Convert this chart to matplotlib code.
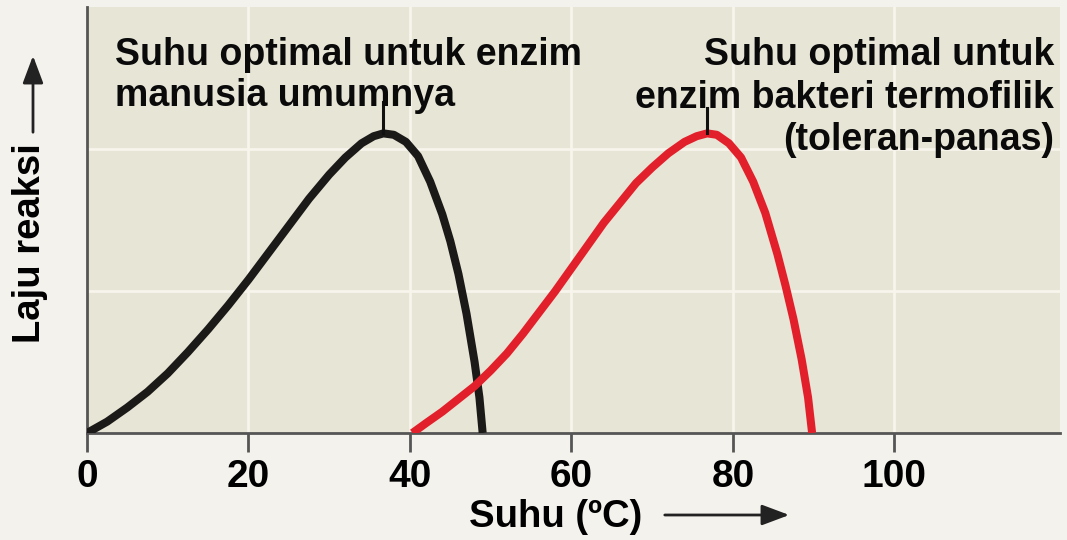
import matplotlib.pyplot as plt
import matplotlib

# data
suhu_manusia = [0, 2.5, 5, 7.5, 10, 12.5, 15, 17.5, 20, 22.5, 25, 27.5, 30, 32, 34, 35.5, 36.7,
                38, 39.5, 41, 42.5, 44, 45, 46, 47, 48, 48.6, 49]
laju_manusia = [0, 0.08, 0.18, 0.29, 0.42, 0.57, 0.73, 0.90, 1.08, 1.27, 1.46, 1.65, 1.82, 1.94,
                2.04, 2.09, 2.11, 2.10, 2.05, 1.95, 1.77, 1.54, 1.35, 1.12, 0.84, 0.50, 0.25, 0]

suhu_termofil = [40.3, 42, 44, 46, 48, 50, 52, 54, 56, 58, 60, 62, 64, 66, 68, 70, 72, 74, 75.5,
                 76.8, 78, 79.5, 81, 82.5, 84, 85.5, 86.5, 87.5, 88.5, 89.3, 89.8]
laju_termofil = [0, 0.07, 0.15, 0.24, 0.33, 0.44, 0.56, 0.70, 0.85, 1.00, 1.16, 1.32, 1.48, 1.62,
                 1.76, 1.87, 1.97, 2.05, 2.09, 2.11, 2.10, 2.04, 1.94, 1.77, 1.55, 1.26, 1.04, 0.80,
                 0.52, 0.25, 0]

xticks = [0, 20, 40, 60, 80, 100]
peak_manusia = 36.7
peak_termofil = 76.8
teks_manusia = 'Suhu optimal untuk enzim\nmanusia umumnya'
teks_termofil = 'Suhu optimal untuk\nenzim bakteri termofilik\n(toleran-panas)'

matplotlib.rcParams['font.family'] = ['Liberation Sans', 'DejaVu Sans']
matplotlib.rcParams['font.weight'] = 'bold'

bg_out = '#f4f2ed'
bg_in = '#e7e5d6'

fig = plt.figure(figsize=(10.67, 5.4), dpi=100, facecolor=bg_out)
ax = fig.add_axes([87 / 1067, 107 / 540, (1060 - 87) / 1067, (433 - 7) / 540])
ax.set_facecolor(bg_in)

# grid
for t in xticks[1:]:
    ax.axvline(t, color='#f7f5ec', lw=2, zorder=1)
for g in [1, 2]:
    ax.axhline(g, color='#f7f5ec', lw=2, zorder=1)

ax.plot(suhu_manusia, laju_manusia, color='#1c1a18', lw=5.8, solid_capstyle='butt',
        solid_joinstyle='round', zorder=3)
ax.plot(suhu_termofil, laju_termofil, color='#e2202c', lw=5.8, solid_capstyle='butt',
        solid_joinstyle='round', zorder=3)

# penunjuk puncak
ax.plot([peak_manusia, peak_manusia], [2.11, 2.33], color='#111111', lw=2.2, zorder=4)
ax.plot([peak_termofil, peak_termofil], [2.11, 2.29], color='#111111', lw=2.2, zorder=4)

ax.text(3.5, 2.79, teks_manusia, fontsize=27, fontweight='bold', ha='left', va='top',
        linespacing=1.18, color='#0a0a0a', zorder=5)
ax.text(119.8, 2.79, teks_termofil, fontsize=27, fontweight='bold', ha='right', va='top',
        multialignment='right', linespacing=1.24, color='#0a0a0a', zorder=5)

ax.set_xlim(0, 120.5)
ax.set_ylim(0, 3)
ax.set_xticks(xticks)
ax.set_xticklabels([str(t) for t in xticks], fontsize=28, fontweight='bold')
ax.set_yticks([])
ax.tick_params(axis='x', length=14, width=2, color='#555555', pad=5)
for s in ['top', 'right']:
    ax.spines[s].set_visible(False)
for s in ['left', 'bottom']:
    ax.spines[s].set_color('#555555')
    ax.spines[s].set_linewidth(2)

# label sumbu dengan panah
fig.text(556 / 1067, 1 - 517 / 540, 'Suhu (ºC)', fontsize=27.5, fontweight='bold',
         ha='center', va='center')
fig.text(30 / 1067, 1 - 243 / 540, 'Laju reaksi', fontsize=27.5, fontweight='bold',
         ha='center', va='center', rotation=90)
arrow = dict(arrowstyle='-|>,head_length=1.2,head_width=0.45', color='#222222', lw=2)
fig.add_artist(matplotlib.patches.FancyArrowPatch((662 / 1067, 1 - 515 / 540), (792 / 1067, 1 - 515 / 540),
                                                  transform=fig.transFigure, **arrow, mutation_scale=14))
fig.add_artist(matplotlib.patches.FancyArrowPatch((33 / 1067, 1 - 135 / 540), (33 / 1067, 1 - 53 / 540),
                                                  transform=fig.transFigure, **arrow, mutation_scale=14))

fig.savefig('out.png', dpi=100, facecolor=bg_out)
